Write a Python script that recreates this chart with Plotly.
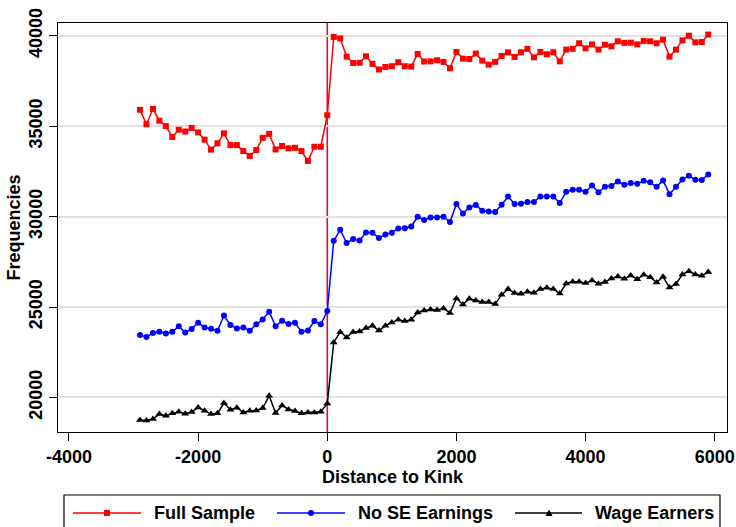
import plotly.graph_objects as go

# Bin positions (distance to kink, in steps of 100)
distance = list(range(-2900, 6000, 100))

full_sample = [
    35900, 35100, 35950, 35300, 35000, 34400, 34800, 34700, 34900, 34650,
    34250, 33700, 34050, 34600, 33950, 33950, 33620, 33350, 33680, 34350,
    34570, 33710, 33900, 33770, 33800, 33620, 33070, 33860, 33860, 35600,
    39930, 39850, 38840, 38490, 38500, 38860, 38440, 38130, 38270, 38310,
    38530, 38310, 38290, 38990, 38570, 38580, 38640, 38550, 38200, 39100,
    38730, 38710, 39010, 38620, 38400, 38550, 38880, 39080, 38820, 39080,
    39270, 38800, 39100, 38970, 39080, 38580, 39230, 39270, 39580, 39300,
    39520, 39230, 39500, 39410, 39690, 39600, 39610, 39520, 39710, 39690,
    39580, 39780, 38840, 39230, 39740, 40000, 39630, 39650, 40060,
]

no_se_earnings = [
    23450, 23340, 23560, 23630, 23540, 23630, 23930, 23590, 23780, 24130,
    23870, 23800, 23690, 24530, 24000, 23810, 23870, 23690, 24040, 24310,
    24740, 23930, 24240, 24060, 24130, 23630, 23700, 24220, 24040, 24780,
    28660, 29270, 28540, 28760, 28680, 29120, 29110, 28810, 29010, 29110,
    29340, 29360, 29450, 29990, 29810, 29950, 29950, 29990, 29700, 30690,
    30170, 30500, 30640, 30320, 30280, 30250, 30650, 31110, 30690, 30710,
    30800, 30800, 31110, 31110, 31110, 30750, 31370, 31480, 31480, 31370,
    31720, 31350, 31650, 31690, 31940, 31760, 31850, 31810, 31980, 31890,
    31650, 32000, 31240, 31650, 32050, 32260, 32030, 32020, 32330,
]

wage_earners = [
    18750, 18730, 18810, 19080, 18990, 19120, 19210, 19100, 19190, 19450,
    19270, 19080, 19120, 19690, 19320, 19430, 19170, 19270, 19280, 19410,
    20090, 19140, 19560, 19340, 19250, 19120, 19170, 19170, 19210, 19670,
    23040, 23620, 23320, 23620, 23650, 23840, 23960, 23700, 23960, 24150,
    24300, 24220, 24300, 24700, 24810, 24860, 24830, 24920, 24670, 25470,
    25140, 25460, 25360, 25270, 25270, 25160, 25680, 25990, 25770, 25730,
    25840, 25790, 25990, 26060, 25990, 25750, 26300, 26400, 26400, 26320,
    26470, 26290, 26380, 26580, 26690, 26560, 26740, 26540, 26780, 26650,
    26360, 26670, 26080, 26270, 26800, 26970, 26800, 26730, 26930,
]

x_ticks = [-4000, -2000, 0, 2000, 4000, 6000]
y_ticks = [20000, 25000, 30000, 35000, 40000]

series_names = ["Full Sample", "No SE Earnings", "Wage Earners"]
series_colors = ["#ff0000", "#0000ff", "#000000"]
series_symbols = ["square", "circle", "triangle-up"]
series_sizes = [6, 6, 7]

W, H = 736, 527
ML, MR, MT, MB = 58, 9, 23, 95
FONT = "Liberation Sans, Arial, sans-serif"
FSIZE = 18


def px(xp):
    return (xp - ML) / (W - ML - MR)


def py(yp):
    return (H - MB - yp) / (H - MT - MB)


fig = go.Figure()
for name, vals, col, sym, sz in zip(series_names,
                                   [full_sample, no_se_earnings, wage_earners],
                                   series_colors, series_symbols, series_sizes):
    fig.add_trace(go.Scatter(
        x=distance, y=vals, mode="lines+markers", name=name,
        line=dict(color=col, width=1.5),
        marker=dict(symbol=sym, size=sz, color=col, line=dict(width=0)),
        showlegend=False,
    ))

shapes = [
    # kink location
    dict(type="line", xref="x", yref="paper", x0=0, x1=0, y0=0, y1=1,
         line=dict(color="#d0104a", width=1.6), layer="between"),
    # legend frame
    dict(type="rect", xref="paper", yref="paper",
         x0=px(64), x1=px(720), y0=py(495), y1=py(560),
         line=dict(color="#000000", width=1.2), fillcolor="rgba(0,0,0,0)"),
]
annotations = []

legend_items = [
    (73, 141, 107, 152),
    (277, 345, 311, 356),
    (515, 582, 549, 593),
]
ly = 513
for (x0, x1, xm, xt), name, col, sym in zip(legend_items, series_names,
                                            series_colors, series_symbols):
    shapes.append(dict(type="line", xref="paper", yref="paper",
                       x0=px(x0), x1=px(x1), y0=py(ly), y1=py(ly),
                       line=dict(color=col, width=1.6)))
    if sym == "square":
        shapes.append(dict(type="rect", xref="paper", yref="paper",
                           x0=px(xm - 3), x1=px(xm + 3), y0=py(ly + 3), y1=py(ly - 3),
                           line=dict(width=0), fillcolor=col))
    elif sym == "circle":
        shapes.append(dict(type="circle", xref="paper", yref="paper",
                           x0=px(xm - 3), x1=px(xm + 3), y0=py(ly + 3), y1=py(ly - 3),
                           line=dict(width=0), fillcolor=col))
    else:
        path = "M {:.5f},{:.5f} L {:.5f},{:.5f} L {:.5f},{:.5f} Z".format(
            px(xm - 3.5), py(ly + 3), px(xm + 3.5), py(ly + 3), px(xm), py(ly - 3.5))
        shapes.append(dict(type="path", xref="paper", yref="paper", path=path,
                           line=dict(width=0), fillcolor=col))
    annotations.append(dict(xref="paper", yref="paper", x=px(xt), y=py(ly),
                            xanchor="left", yanchor="middle", showarrow=False,
                            text=name,
                            font=dict(family=FONT, size=FSIZE, color="#000000",
                                      weight="bold")))

axis_font = dict(family=FONT, size=FSIZE, color="#000000", weight="bold")

fig.update_layout(
    width=W, height=H,
    margin=dict(l=ML, r=MR, t=MT, b=MB, autoexpand=False),
    paper_bgcolor="#ffffff", plot_bgcolor="#ffffff",
    shapes=shapes, annotations=annotations,
    xaxis=dict(
        range=[-4170, 6190], tickvals=x_ticks, ticktext=[str(v) for v in x_ticks],
        ticks="outside", ticklen=8, tickwidth=1.2, tickcolor="#000000",
        showline=True, linecolor="#000000", linewidth=1.2, mirror=True,
        showgrid=False, zeroline=False, tickfont=axis_font,
        title=dict(text="Distance to Kink", font=axis_font, standoff=2),
    ),
    yaxis=dict(
        range=[18090, 40700], tickvals=y_ticks, ticktext=[str(v) for v in y_ticks],
        tickangle=-90,
        ticks="outside", ticklen=8, tickwidth=1.2, tickcolor="#000000",
        showline=True, linecolor="#000000", linewidth=1.2, mirror=True,
        showgrid=True, gridcolor="#e2e2e2", gridwidth=1.5, zeroline=False,
        tickfont=axis_font,
        title=dict(text="Frequencies", font=axis_font, standoff=0),
    ),
)

fig.write_html("out.html")
